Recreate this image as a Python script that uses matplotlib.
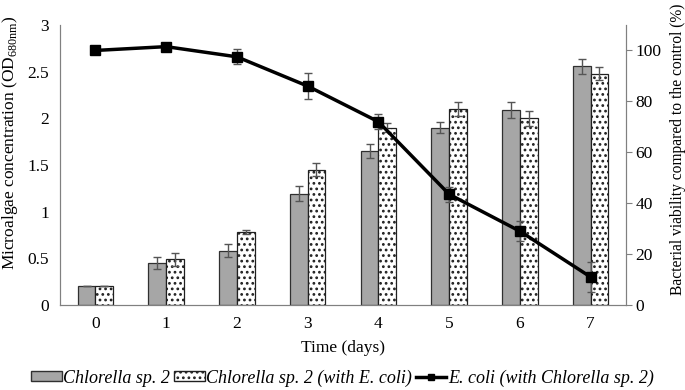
import numpy as np
import matplotlib.pyplot as plt
from matplotlib.lines import Line2D
from matplotlib.patches import Patch

plt.rcParams['font.family'] = ['Liberation Serif', 'DejaVu Serif']
plt.rcParams['hatch.linewidth'] = 1.2
plt.rcParams['mathtext.fontset'] = 'custom'
plt.rcParams['mathtext.rm'] = 'Liberation Serif'

days = [0, 1, 2, 3, 4, 5, 6, 7]
chlorella = [0.20, 0.45, 0.58, 1.19, 1.65, 1.90, 2.09, 2.56]
chlorella_err = [0.0, 0.06, 0.07, 0.08, 0.07, 0.06, 0.09, 0.08]
chlorella_ecoli = [0.20, 0.49, 0.78, 1.45, 1.90, 2.10, 2.00, 2.48]
chlorella_ecoli_err = [0.0, 0.07, 0.02, 0.07, 0.05, 0.08, 0.08, 0.07]
ecoli = [100, 101.5, 97.5, 86, 72, 43.5, 29, 11]
ecoli_err = [0, 1.5, 3, 5, 3, 3, 4, 6]

fig = plt.figure(figsize=(6.85, 3.9), dpi=100)
ax = fig.add_axes([60 / 685, 1 - 305 / 390, 566 / 685, 280 / 390])
ax2 = ax.twinx()

x = np.array(days)
w = 0.25
ax.bar(x - w / 2, chlorella, w, color='#a6a6a6', edgecolor='#303030', linewidth=0.9,
       yerr=chlorella_err, error_kw=dict(ecolor='#555555', capsize=3, elinewidth=1))
ax.bar(x + w / 2, chlorella_ecoli, w, color='white', edgecolor='#202020', linewidth=0.9,
       hatch='...', yerr=chlorella_ecoli_err,
       error_kw=dict(ecolor='#555555', capsize=3, elinewidth=1))

ax2.errorbar(x, ecoli, yerr=ecoli_err, color='black', lw=2.5, marker='s', ms=7,
             ecolor='#555555', elinewidth=1, capsize=3, zorder=5)

ax.set_xlim(-0.5, 7.5)
ax.set_ylim(0, 3)
ax2.set_ylim(0, 110)
ax.set_xticks(days)
ax.set_yticks([0, 0.5, 1, 1.5, 2, 2.5, 3])
ax.set_yticklabels(['0', '0.5', '1', '1.5', '2', '2.5', '3'])
ax2.set_yticks([0, 20, 40, 60, 80, 100])

for a in (ax, ax2):
    a.spines['top'].set_visible(False)
    for s in ('left', 'right', 'bottom'):
        a.spines[s].set_color('#808080')
ax.tick_params(axis='both', length=0, labelsize=12.5, pad=8)
ax2.tick_params(axis='y', length=4, color='#808080', labelsize=12.5, pad=3)

ax.set_ylabel('Microalgae concentration (OD$_{\\mathrm{680nm}}$)', fontsize=12.5)
ax.yaxis.set_label_coords(-0.07, 0.58)
ax2.set_ylabel('Bacterial viability compared to the control (%)', fontsize=11.2)
ax2.yaxis.set_label_coords(1.077, 0.555)
ax.set_xlabel('Time (days)', fontsize=12.5, labelpad=6)

handles = [
    Patch(facecolor='#a6a6a6', edgecolor='#303030'),
    Patch(facecolor='white', edgecolor='#202020', hatch='...'),
    Line2D([], [], color='black', lw=2.5, marker='s', ms=5),
]
labels = ['Chlorella sp. 2', 'Chlorella sp. 2 (with E. coli)', 'E. coli (with Chlorella sp. 2)']
fig.legend(handles, labels, loc='center', bbox_to_anchor=(0.5, 1 - 378 / 390), ncol=3,
           frameon=False, prop={'style': 'italic', 'size': 13}, handlelength=1.7,
           handleheight=0.5, handletextpad=0.1, columnspacing=0.2, borderaxespad=0)

fig.savefig('out.png', dpi=100)
